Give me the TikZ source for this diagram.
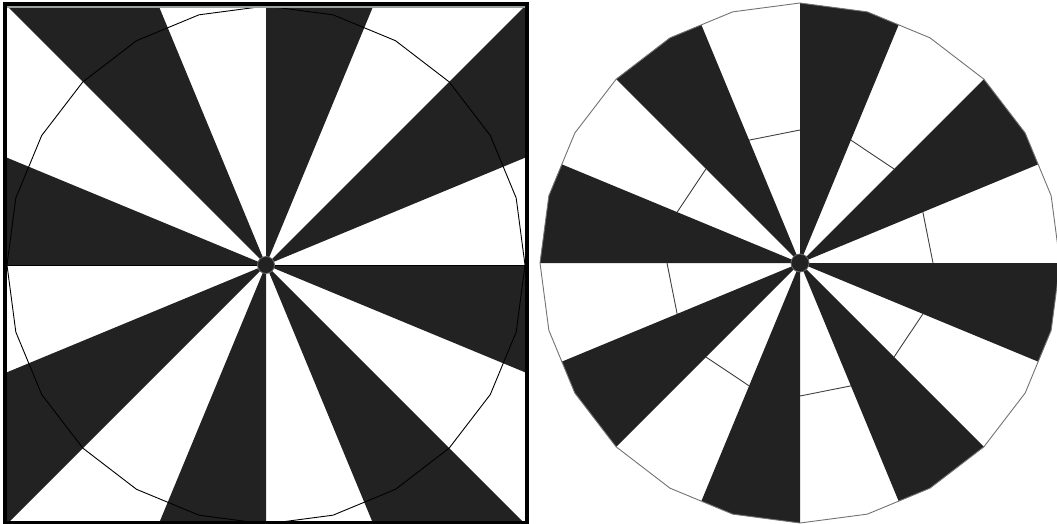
\documentclass[tikz,border=0pt]{standalone}
\definecolor{wedge}{HTML}{222222}
\definecolor{rim}{HTML}{9AA0A0}
\tikzset{
  wedgefill/.style={fill=wedge},
  ring/.style={draw=black, line width=0.9pt},
  chord/.style={draw=black!75, line width=0.9pt},
  frame/.style={draw=black, line width=4pt},
  hub/.style={fill=wedge, draw=black!60, line width=0.8pt}
}
\begin{document}
\begin{tikzpicture}[x=1pt,y=-1pt]
\useasboundingbox (0,0) rectangle (1057,524);
\fill[white] (0,0) rectangle (1057,524);
% ---------------- left panel ----------------
\coordinate (L) at (266,265);
\begin{scope}
  \clip (7,7) rectangle (525,520);
  \foreach \k in {0,...,7}{
    \pgfmathsetmacro\a{-(22.5+45*\k)}
    \pgfmathsetmacro\b{-(45+45*\k)}
    \fill[wedgefill, shift={(L)}] (0,0) -- (\a:700) -- (\b:700) -- cycle;
  }
  \draw[black, line width=1pt] (7,265) -- (525,265);
  \draw[ring, shift={(L)}] (0:259) \foreach \i in {1,...,23}{ -- (\i*15:259)} -- cycle;
\end{scope}
\draw[frame] (5,4.5) rectangle (526.5,522.5);
\draw[rim, line width=2pt] (7,7) -- (525,7);
\fill[hub] (L) circle[radius=8.5pt];
% ---------------- right panel ----------------
\coordinate (R) at (800,263);
\begin{scope}
  \clip[shift={(R)}] (0:260) \foreach \i in {1,...,23}{ -- (\i*15:260)} -- cycle;
  \foreach \k in {0,...,7}{
    \pgfmathsetmacro\a{-(22.5+45*\k)}
    \pgfmathsetmacro\b{-(45+45*\k)}
    \fill[wedgefill, shift={(R)}] (0,0) -- (\a:700) -- (\b:700) -- cycle;
  }
\end{scope}
\draw[chord, draw=black!55, shift={(R)}] (0:260) \foreach \i in {1,...,23}{ -- (\i*15:260)} -- cycle;
\foreach \k in {0,...,7}{
  \pgfmathsetmacro\a{-(45*\k)}
  \pgfmathsetmacro\b{-(22.5+45*\k)}
  \draw[chord, shift={(R)}] (\a:133) -- (\b:133);
}
\fill[hub] (R) circle[radius=9pt];
\end{tikzpicture}
\end{document}
